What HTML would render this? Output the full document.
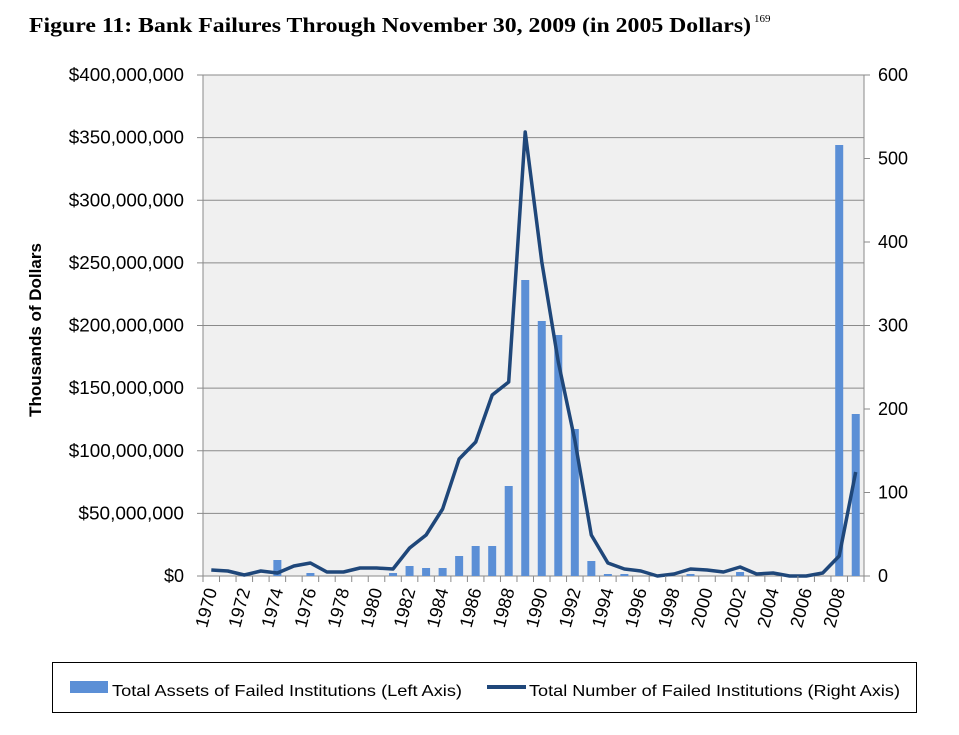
<!DOCTYPE html>
<html><head><style>body{margin:0;background:#fff}svg{display:block}</style></head><body>
<svg width="959" height="735" xmlns="http://www.w3.org/2000/svg" font-family="Liberation Sans, sans-serif">
<text x="29" y="32" font-family="Liberation Serif, serif" font-weight="bold" font-size="21" textLength="722" lengthAdjust="spacingAndGlyphs">Figure 11: Bank Failures Through November 30, 2009 (in 2005 Dollars)</text>
<text x="754" y="22" font-family="Liberation Serif, serif" font-size="11">169</text>
<rect x="203" y="75" width="661" height="501" fill="#f0f0f0"/>
<g stroke="#8a8a8a" stroke-width="1">
<line x1="203" y1="75" x2="864" y2="75"/><line x1="203" y1="137.6" x2="864" y2="137.6"/><line x1="203" y1="200.2" x2="864" y2="200.2"/><line x1="203" y1="262.9" x2="864" y2="262.9"/><line x1="203" y1="325.5" x2="864" y2="325.5"/><line x1="203" y1="388.1" x2="864" y2="388.1"/><line x1="203" y1="450.7" x2="864" y2="450.7"/><line x1="203" y1="513.4" x2="864" y2="513.4"/>
<line x1="203" y1="75" x2="203" y2="576"/><line x1="864" y1="75" x2="864" y2="576"/><line x1="197" y1="576" x2="870" y2="576"/>
</g>
<g id="b" fill="#5b8fd6"></g>
<polyline id="l" fill="none" stroke="#1f477a" stroke-width="3.5" stroke-linejoin="round"/>
<g id="t" font-size="18" fill="#000"></g>
<text transform="translate(41,330) rotate(-90)" text-anchor="middle" font-weight="bold" font-size="17">Thousands of Dollars</text>
<rect x="52.5" y="662.5" width="864" height="50" fill="none" stroke="#000"/>
<rect x="70" y="681" width="38" height="12" fill="#5b8fd6"/>
<text x="112" y="696" font-size="16" textLength="350" lengthAdjust="spacingAndGlyphs">Total Assets of Failed Institutions (Left Axis)</text>
<line x1="487" y1="687" x2="526" y2="687" stroke="#1f477a" stroke-width="4"/>
<text x="529" y="696" font-size="16" textLength="371" lengthAdjust="spacingAndGlyphs">Total Number of Failed Institutions (Right Axis)</text>
</svg>
<script>
var ns="http://www.w3.org/2000/svg";
function el(t,a,p,txt){var e=document.createElementNS(ns,t);for(var k in a)e.setAttribute(k,a[k]);if(txt)e.textContent=txt;p.appendChild(e);return e;}
var bars={1974:560,1976:573,1981:573,1982:566,1983:568,1984:568,1985:556,1986:546,1987:546,1988:486,1989:280,1990:321,1991:335,1992:429,1993:561,1994:574,1995:574,1999:574,2002:572,2008:145,2009:414};
var line=[570,571,575,571,573,566,563,572,572,568,568,569,548,535,509,459,442,395,382,132,262,362,440,535,563,569,571,576,574,569,570,572,567,574,573,576,576,573,556,472];
var step=661/40,b=document.getElementById('b'),t=document.getElementById('t'),svg=document.querySelector('svg');
for(var y in bars){var cx=203+(y-1970+0.5)*step;el('rect',{x:cx-4,y:bars[y],width:8,height:576-bars[y]},b);}
var pts=line.map(function(v,i){return (203+(i+0.5)*step).toFixed(1)+','+v}).join(' ');
document.getElementById('l').setAttribute('points',pts);
for(var i=0;i<=40;i++){var x=203+i*step;el('line',{x1:x,y1:576,x2:x,y2:582,stroke:'#8a8a8a'},svg);}
var L=['$0','$50,000,000','$100,000,000','$150,000,000','$200,000,000','$250,000,000','$300,000,000','$350,000,000','$400,000,000'];
for(var i=0;i<9;i++){var y=576-i*62.625;var a={x:184,y:y+6,'text-anchor':'end'};if(i>0){a.textLength=L[i].length*9.6;a.lengthAdjust='spacingAndGlyphs';}el('text',a,t,L[i]);
el('line',{x1:197,y1:y,x2:203,y2:y,stroke:'#8a8a8a'},svg);}
for(var i=0;i<=6;i++){var y=576-i*83.5;el('text',{x:878,y:y+6},t,String(i*100));el('line',{x1:864,y1:y,x2:870,y2:y,stroke:'#8a8a8a'},svg);}
for(var yr=1970;yr<=2008;yr+=2){var cx=203+(yr-1970+0.5)*step;el('text',{transform:'translate('+(cx+6)+',590) rotate(-75)','text-anchor':'end','font-size':'18'},t,String(yr));}
</script>
</body></html>
